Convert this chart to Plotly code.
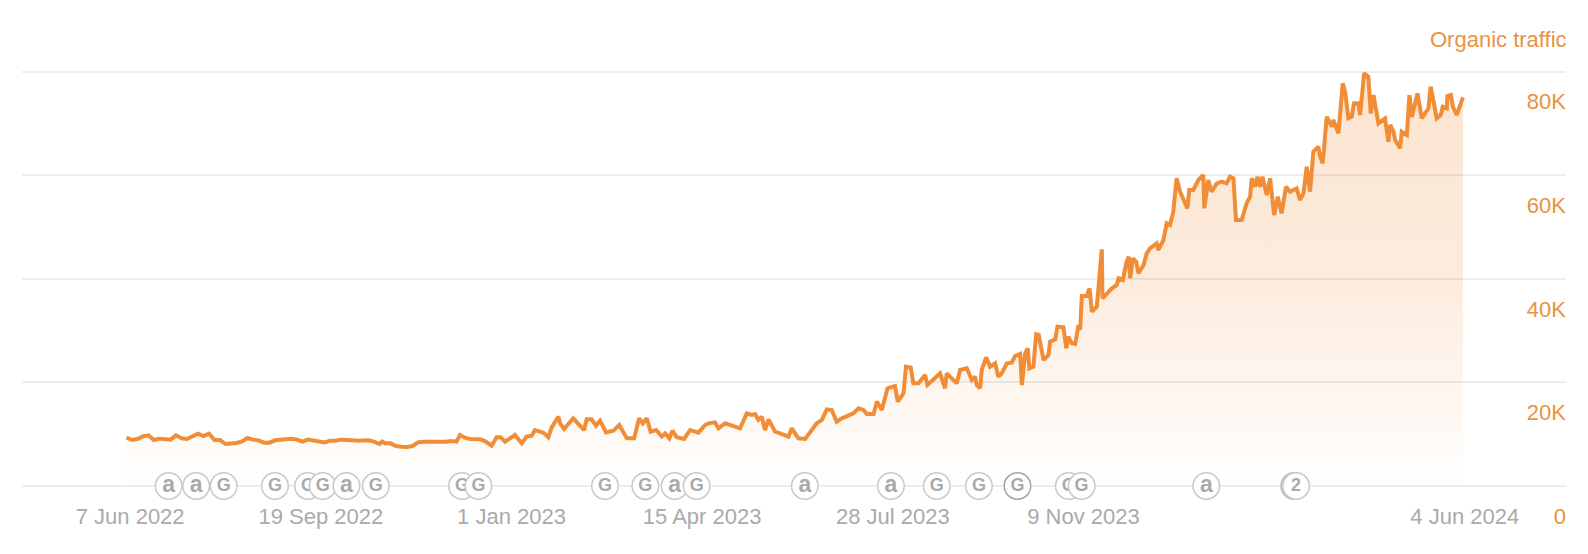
import pandas as pd
import plotly.graph_objects as go

# Traffic: day offset since the first reading, and value at that offset
start_date = "2022-06-05"
day_offsets = [
 0,3,6,9,12,15,18,21,24,27,30,33,36,39,42,45,48,51,54,57,60,63,66,69,72,75,78,81,84,87,90,93,96,99,102,105,108,111,114,117,
 120,123,126,129,132,135,138,139.5,141,144,147,150,153,156,159,162,165,168,171,174,177,180,
 181.9,184.6,187.4,192.8,195.5,199.2,201.9,204.1,206.5,211.9,215.6,218.3,221,222.8,227.4,230.1,231.9,235.6,236.5,238.7,
 243.7,249.6,251,253.7,256.1,258.3,261.6,265.6,268.8,272.9,276.9,279.6,281.6,283.8,285.9,288.9,292,293.8,296.1,297.8,
 300.1,304.1,307.4,312,315.6,317.4,321,322.9,326.5,334.7,338.3,341.1,342.9,344.7,346.5,348.3,350.2,353.8,356.5,361.1,
 362.9,366.5,370.2,372.9,376.5,379.3,382,384.7,387.4,390.2,393.8,396.5,399.3,402,403.8,407.5,409.3,412,
 415.1,419.2,420.7,423.8,425.2,427.8,429.2,432,435.6,436.9,443.8,446.5,447.4,452.9,454.7,458.4,461.1,462.9,463.8,465.6,
 466.5,468.9,471.1,473.8,475.6,477.4,480.2,482.9,484.7,487.5,488.4,490.2,491.6,492.5,494.7,496.2,497.6,500.2,502.9,503.8,
 506.6,507.8,511.1,512.6,513.8,515.6,517.5,519.3,520.2,521.1,523.8,525.3,526.6,529.3,532,532.4,537.5,540.2,541.1,543.5,
 545.3,546.6,547.5,548.9,550.8,552,554.8,
 556.5,558.3,561.9,562.8,565.6,567.4,569.2,571,572.8,574.7,578.7,579.7,581.9,584.7,587.4,587.9,590.1,591.9,594.7,597.4,
 600.1,601.9,603.8,605.2,608.3,611,612.9,613.8,615.6,616.9,618.3,619.6,622,623.8,626,628,630.1,632.5,634.7,636.5,
 638.3,640.1,642,643.8,645.6,647.4,650.1,651.1,652.5,654.7,657.4,658.3,661.1,663.4,664.7,666.5,668.3,669.6,672,672.9,
 675.1,677.4,678.7,680.2,682.9,686.5,688.3,689.3,691.1,692,694.7,695.6,698.4,699.8,701.1,704.2,706.5,710.2,711.4,714.7,
 716.9,718,720.2,720.5,722.4,723.5,725.6,729,
]
traffic = [
 9330,8880,9075,9590,9780,8880,9140,9075,8950,9780,9205,9075,9655,10100,9655,10100,8880,8880,8110,8240,8300,8625,9270,8950,8820,8370,8370,8820,8880,9010,9140,8950,8560,8950,8820,8560,8430,8750,8750,8950,
 8950,8820,8750,8820,8820,8560,8110,8600,8240,8240,7720,7600,7530,7720,8430,8560,8560,8430,8500,8560,8690,8560,
 9850,9330,9075,9010,8690,7790,9400,9400,8560,9850,8240,9530,9720,10810,10300,9400,11330,13390,12100,11010,
 13070,10810,12870,12870,11650,12620,10360,10690,11780,9200,9200,13070,12100,13070,10490,10810,9530,10170,9200,10690,
 9400,9075,10810,10300,11780,12100,12290,11135,12100,11135,14030,13710,13900,12750,13390,10810,12870,10490,10170,9530,
 11135,9200,9075,10490,12100,12750,14800,14680,12420,13070,13710,14030,15000,14680,13900,13900,16290,14680,
 18860,19310,16280,17890,23040,22850,19820,19820,21430,19500,21750,18860,21750,19820,22400,22720,20470,21110,19500,18860,
 22400,24850,23040,23690,21110,21750,23690,23815,25100,25490,19500,25620,26580,22720,23040,29290,29160,24330,25300,27870,
 28320,30770,30640,26580,28840,27550,27420,31090,30120,36690,36690,38170,33660,34630,45700,36240,38170,38810,40100,39780,
 43000,44280,40100,43960,43320,41070,42680,
 44930,45890,46860,45570,47500,50720,50400,52970,59410,56830,53620,57160,57160,59090,60050,53620,59090,56830,58440,58770,
 58440,59730,59410,51360,51360,54580,55870,59410,57800,59730,57800,59730,56190,59410,52330,55870,52650,57800,56830,57160,
 57480,55230,56510,61660,56830,64560,65520,63590,62310,71320,69390,70670,68100,77760,76150,71010,71320,73890,73890,71640,
 79690,79040,71960,75500,70030,71000,66490,69710,68420,66810,65200,68420,67780,75500,71320,75820,71010,72930,77110,71010,
 71640,73250,72930,75310,75500,73250,71640,75050,
]

# Event badges along the baseline
event_dates = [
 "2022-06-28","2022-07-13","2022-07-28","2022-08-25","2022-09-12","2022-09-20","2022-10-03","2022-10-19",
 "2022-12-05","2022-12-14","2023-02-21","2023-03-15","2023-03-31","2023-04-12","2023-06-10","2023-07-27",
 "2023-08-21","2023-09-13","2023-10-04","2023-11-01","2023-11-08","2024-01-15","2024-03-03","2024-03-04",
]
event_labels = ["a","a","G","G","G","G","a","G","G","G","G","G","a","G","a","a","G","G","G","G","G","a","","2"]
event_rings  = ["#c9c9c9"]*18 + ["#a3a3a3"] + ["#c9c9c9"]*3 + ["#b5b5b5","#c9c9c9"]

x_ticks = ["2022-06-07","2022-09-19","2023-01-01","2023-04-15","2023-07-28","2023-11-09","2024-06-04"]
x_labels = ["7 Jun 2022","19 Sep 2022","1 Jan 2023","15 Apr 2023","28 Jul 2023","9 Nov 2023","4 Jun 2024"]
y_ticks = [0,20000,40000,60000,80000]
y_labels = ["0","20K","40K","60K","80K"]
series_name = "Organic traffic"

ORANGE = "#e9923f"
LINE = "#f08d36"
GREY = "#aaaaaa"
FONT = "Liberation Sans"

dates = pd.Timestamp(start_date) + pd.to_timedelta(day_offsets, unit="D")

fig = go.Figure()
fig.add_trace(go.Scatter(
    x=dates, y=traffic, mode="lines", name=series_name, showlegend=False,
    line=dict(color=LINE, width=4, shape="linear"),
    fill="tozeroy",
    fillgradient=dict(type="vertical", start=80000, stop=0,
                      colorscale=[[0, "rgba(240,141,54,0.24)"], [0.5, "rgba(240,141,54,0.17)"],
                                  [0.8, "rgba(240,141,54,0.07)"], [1, "rgba(240,141,54,0.01)"]]),
    hoverinfo="skip",
))

for d, lab, ring in zip(event_dates, event_labels, event_rings):
    fig.add_trace(go.Scatter(
        x=[d], y=[0], mode="markers+text", text=[lab], textposition="middle center",
        marker=dict(size=26.5, color="white", line=dict(color=ring, width=1.5)),
        textfont=dict(family=FONT, size=23 if lab == "a" else 18, color=GREY, weight="bold"),
        showlegend=False, hoverinfo="skip", cliponaxis=False,
    ))

# Empty trace so the offset label axis is drawn
fig.add_trace(go.Scatter(x=[None], y=[None], yaxis="y2", showlegend=False, hoverinfo="skip"))

fig.update_layout(
    width=1588, height=554, autosize=False,
    margin=dict(l=22, r=22, t=0, b=0),
    paper_bgcolor="white", plot_bgcolor="white",
    font=dict(family=FONT, size=22),
    xaxis=dict(
        type="date", range=["2022-04-09 00:00", "2024-07-29 05:00"],
        tickmode="array", tickvals=x_ticks, ticktext=x_labels,
        tickfont=dict(color=GREY, size=22, family=FONT),
        showgrid=False, zeroline=False, showline=False, ticks="",
        anchor="free", position=0.096,
    ),
    yaxis=dict(
        range=[-13130, 93846], domain=[0, 1],
        tickmode="array", tickvals=y_ticks, showticklabels=False,
        showgrid=True, gridcolor="#ededed", gridwidth=2, zeroline=False, showline=False, ticks="",
    ),
    yaxis2=dict(
        overlaying="y", side="right", anchor="x",
        range=[-13130 + 5793, 93846 + 5793],
        tickmode="array", tickvals=y_ticks, ticktext=y_labels,
        ticklabelposition="inside", ticklabelstandoff=-3,
        tickfont=dict(color=ORANGE, size=22, family=FONT),
        showgrid=False, zeroline=False, showline=False, ticks="",
    ),
    annotations=[dict(
        text=series_name, xref="paper", x=1, xanchor="right", xshift=3,
        yref="paper", y=1 - 39 / 554, yanchor="middle", showarrow=False,
        font=dict(color=ORANGE, size=22, family=FONT),
    )],
)

fig.write_html("out.html", config={"displayModeBar": False},
               post_script="document.body.style.margin='0';")
